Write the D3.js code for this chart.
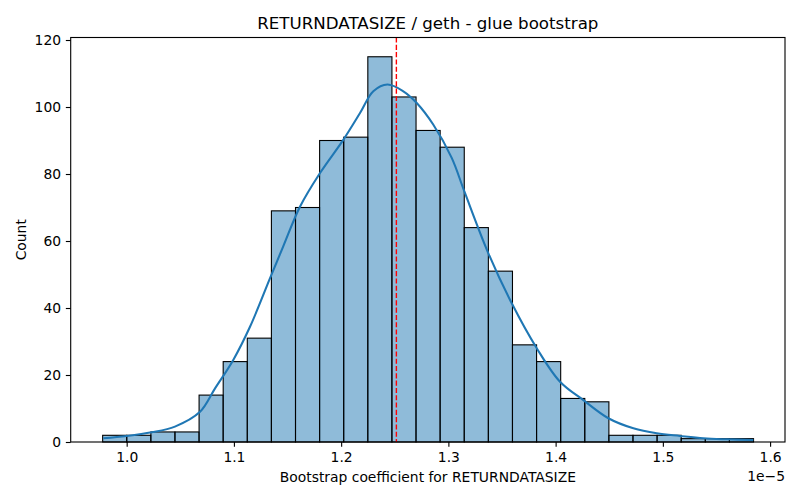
<!DOCTYPE html>
<html>
<head>
<meta charset="utf-8">
<script src="https://cdn.jsdelivr.net/npm/d3@7"></script>
<style>
body { margin: 0; background: #fff; }
text { font-family: "DejaVu Sans", sans-serif; fill: #000; }
</style>
</head>
<body>
<svg id="chart" width="800" height="500"></svg>
<script>
/************************************ Data *******************************/
// histogram bins (units of 1e-5)
var binStart = 0.9776;
var binWidth = 0.02248;
var counts = [2, 2, 3, 3, 14, 24, 31, 69, 70, 90, 91, 115, 103, 93, 88, 64, 51, 29, 24, 13, 12, 2, 2, 2, 1, 1, 1];
// kde curve
var kdeX = [0.9782, 1.0, 1.0233, 1.045, 1.0684, 1.0824, 1.0994, 1.115, 1.1337, 1.146, 1.1617, 1.1803, 1.202, 1.2176, 1.23, 1.2432,
            1.258, 1.2705, 1.286, 1.3031, 1.3149, 1.3372, 1.3591, 1.3824, 1.4041, 1.4259, 1.4492, 1.4725, 1.4943, 1.516, 1.5378, 1.5596, 1.5844];
var kdeY = [1.1, 1.8, 2.9, 4.6, 9, 16, 24.5, 34.4, 48.9, 58.4, 70.3, 80.3, 90.2, 98.2, 104.7, 106.7,
            104.7, 101.2, 94.7, 84.8, 74.8, 56.4, 41.4, 28, 18, 12.5, 7.1, 4.1, 2.6, 1.8, 1.1, 0.8, 0.6];
var meanValue = 1.2515;
var xTicks = [1.0, 1.1, 1.2, 1.3, 1.4, 1.5, 1.6];
var yTicks = [0, 20, 40, 60, 80, 100, 120];

/************************************ Layout *******************************/
// (window.top is read-only, hence the prefixed names)
var axLeft = 70.7, axRight = 785, axTop = 37.5, axBottom = 442;
var svg = d3.select("#chart");

var x = d3.scaleLinear().domain([0.9478, 1.6139]).range([axLeft, axRight]);
var y = d3.scaleLinear().domain([0, 120.75]).range([axBottom, axTop]);

/************************************ Bars *******************************/
svg.append("g").selectAll("rect")
	.data(counts)
	.enter().append("rect")
		.attr("x", function(d, i) { return x(binStart + i * binWidth); })
		.attr("y", function(d) { return y(d); })
		.attr("width", function(d, i) { return x(binStart + (i + 1) * binWidth) - x(binStart + i * binWidth); })
		.attr("height", function(d) { return y(0) - y(d); })
		.attr("fill", "rgba(31,119,180,0.5)")
		.attr("stroke", "#000")
		.attr("stroke-width", 1.1);

/************************************ KDE *******************************/
var line = d3.line()
	.x(function(d, i) { return x(kdeX[i]); })
	.y(function(d) { return y(d); })
	.curve(d3.curveCatmullRom);
svg.append("path")
	.attr("d", line(kdeY))
	.attr("fill", "none")
	.attr("stroke", "#1f77b4")
	.attr("stroke-width", 2.08);

// mean line
svg.append("line")
	.attr("x1", x(meanValue)).attr("x2", x(meanValue))
	.attr("y1", axTop).attr("y2", axBottom)
	.attr("stroke", "red")
	.attr("stroke-width", 1.39)
	.attr("stroke-dasharray", "5.1,2.2");

/************************************ Axes *******************************/
var xAxis = d3.axisBottom(x).tickValues(xTicks).tickFormat(d3.format(".1f")).tickSize(4.86).tickPadding(4.8);
var gx = svg.append("g").attr("transform", "translate(0," + axBottom + ")").call(xAxis);
var yAxis = d3.axisLeft(y).tickValues(yTicks).tickFormat(d3.format("d")).tickSize(4.86).tickPadding(4.8);
var gy = svg.append("g").attr("transform", "translate(" + axLeft + ",0)").call(yAxis);
[gx, gy].forEach(function(g) {
	g.select(".domain").remove();
	g.selectAll("line").attr("stroke", "#000").attr("stroke-width", 1.11);
	g.selectAll("text").style("font-size", "13.89px").attr("fill", "#000");
});

svg.append("rect")
	.attr("x", axLeft).attr("y", axTop)
	.attr("width", axRight - axLeft).attr("height", axBottom - axTop)
	.attr("fill", "none").attr("stroke", "#000").attr("stroke-width", 1.11);

/************************************ Text *******************************/
svg.append("text")
	.attr("x", (axLeft + axRight) / 2).attr("y", 29)
	.attr("text-anchor", "middle").style("font-size", "16.67px")
	.text("RETURNDATASIZE / geth - glue bootstrap");
svg.append("text")
	.attr("x", (axLeft + axRight) / 2).attr("y", 482)
	.attr("text-anchor", "middle").style("font-size", "13.89px")
	.text("Bootstrap coefficient for RETURNDATASIZE");
svg.append("text")
	.attr("transform", "translate(26," + ((axTop + axBottom) / 2) + ") rotate(-90)")
	.attr("text-anchor", "middle").style("font-size", "13.89px")
	.text("Count");
svg.append("text")
	.attr("x", axRight).attr("y", 481)
	.attr("text-anchor", "end").style("font-size", "13.89px")
	.text("1e\u22125");
</script>
</body>
</html>
